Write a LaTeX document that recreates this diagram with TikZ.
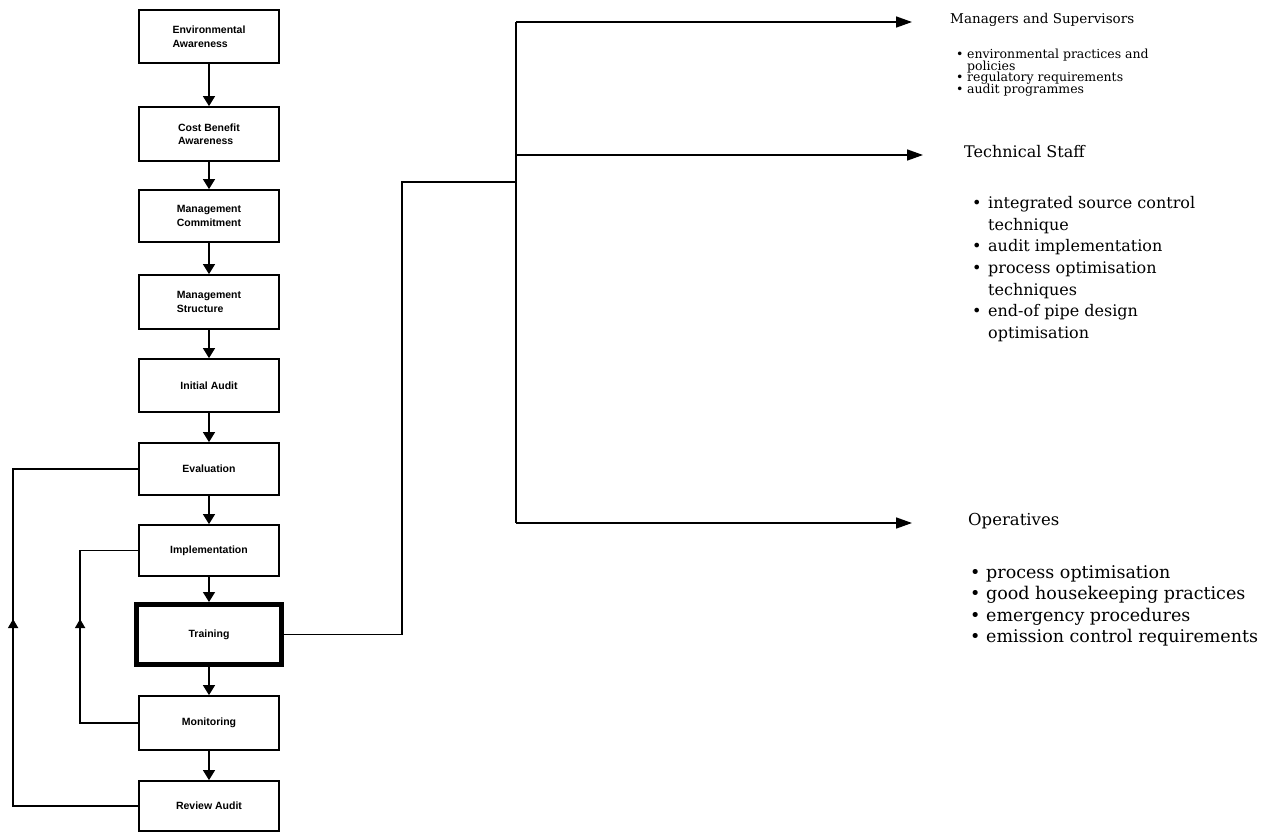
\documentclass[tikz,border=0pt]{standalone}
\usepackage{fontspec}
\setmainfont{DejaVu Serif}
\newfontfamily\boxfont{Liberation Sans}
\usetikzlibrary{arrows.meta,decorations.markings}
\begin{document}
\begin{tikzpicture}[x=1pt,y=-1pt,
  box/.style={draw, line width=1.8pt, minimum width=140pt, inner sep=0pt,
    font=\boxfont\bfseries\fontsize{10.5}{13.5}\selectfont, align=left},
  flow/.style={line width=1.5pt, -{Triangle[length=10pt,width=12pt]}},
  wire/.style={line width=1.5pt},
  fb/.style={line width=1.5pt, postaction={decorate},
    decoration={markings, mark=at position #1 with {\arrow{Triangle[length=9pt,width=10pt]}}}},
  rarrow/.style={line width=1.6pt, -{Triangle[length=16pt,width=11pt]}},
  rtext/.style={anchor=west, inner sep=0pt, text height=0.72em, text depth=0.22em},
  mgrh/.style={rtext, font=\fontsize{13.5}{16}\selectfont},
  mgr/.style={rtext, font=\fontsize{12.5}{14}\selectfont},
  tech/.style={rtext, font=\fontsize{16}{19}\selectfont},
  operh/.style={rtext, font=\fontsize{16.5}{19}\selectfont},
  oper/.style={rtext, font=\fontsize{17.5}{20}\selectfont}]
\useasboundingbox (0,0) rectangle (1288,833);

% left column
\node[box, minimum height=53pt] (b1) at (209,36.5) {Environmental\\Awareness};
\node[box, minimum height=54pt] (b2) at (209,134) {Cost Benefit\\Awareness};
\node[box, minimum height=52pt] (b3) at (209,216) {Management\\Commitment};
\node[box, minimum height=54pt] (b4) at (209,302) {Management\\Structure};
\node[box, minimum height=53pt] (b5) at (209,385.5) {Initial Audit};
\node[box, minimum height=52pt] (b6) at (209,469) {Evaluation};
\node[box, minimum height=51pt] (b7) at (209,550.5) {Implementation};
\node[box, line width=5pt, minimum width=145pt, minimum height=60pt] (b8) at (209,634.5) {Training};
\node[box, minimum height=54pt] (b9) at (209,723) {Monitoring};
\node[box, minimum height=50pt] (b10) at (209,806) {Review Audit};

\foreach \a/\b in {b1/b2,b2/b3,b3/b4,b4/b5,b5/b6,b6/b7,b7/b8,b8/b9,b9/b10}
  \draw[flow] (\a) -- (\b);

% feedback loops
\draw[fb=312pt] (b10.west) -- ++(-125,0) |- (b6.west);
\draw[fb=162pt] (b9.west) -- ++(-58,0) |- (b7.west);

% training outputs
\coordinate (jt) at (402,182);
\coordinate (j) at (516,182);
\coordinate (ttop) at (516,22);
\coordinate (tmid) at (516,155);
\coordinate (tbot) at (516,523);
\coordinate (a1) at (912,22);
\coordinate (a2) at (923,155);
\coordinate (a3) at (912,523);
\draw[wire] (b8.east) -| (jt) -- (j);
\draw[wire] (ttop) -- (tbot);
\draw[rarrow] (ttop) -- (a1);
\draw[rarrow] (tmid) -- (a2);
\draw[rarrow] (tbot) -- (a3);

% Managers and Supervisors
\node[mgrh] (mh) at (950,21) {Managers and Supervisors};
\node[mgr] (m1b) at (956,56) {•};
\node[mgr] (m1) at (967,56) {environmental practices and};
\node[mgr] (m1c) at (967,67.5) {policies};
\node[mgr] (m2b) at (956,79) {•};
\node[mgr] (m2) at (967,79) {regulatory requirements};
\node[mgr] (m3b) at (956,90.5) {•};
\node[mgr] (m3) at (967,90.5) {audit programmes};

% Technical Staff
\node[tech] (th) at (964,155) {Technical Staff};
\node[tech] (t1b) at (972,206) {•};
\node[tech] (t1) at (988,206) {integrated source control};
\node[tech] (t1c) at (988,227.5) {technique};
\node[tech] (t2b) at (972,249) {•};
\node[tech] (t2) at (988,249) {audit implementation};
\node[tech] (t3b) at (972,271) {•};
\node[tech] (t3) at (988,271) {process optimisation};
\node[tech] (t3c) at (988,292.5) {techniques};
\node[tech] (t4b) at (972,314) {•};
\node[tech] (t4) at (988,314) {end-of pipe design};
\node[tech] (t4c) at (988,336) {optimisation};

% Operatives
\node[operh] (oh) at (968,523) {Operatives};
\node[oper] (o1b) at (970,576) {•};
\node[oper] (o1) at (986,576) {process optimisation};
\node[oper] (o2b) at (970,597) {•};
\node[oper] (o2) at (986,597) {good housekeeping practices};
\node[oper] (o3b) at (970,618.5) {•};
\node[oper] (o3) at (986,618.5) {emergency procedures};
\node[oper] (o4b) at (970,640) {•};
\node[oper] (o4) at (986,640) {emission control requirements};
\end{tikzpicture}
\end{document}
